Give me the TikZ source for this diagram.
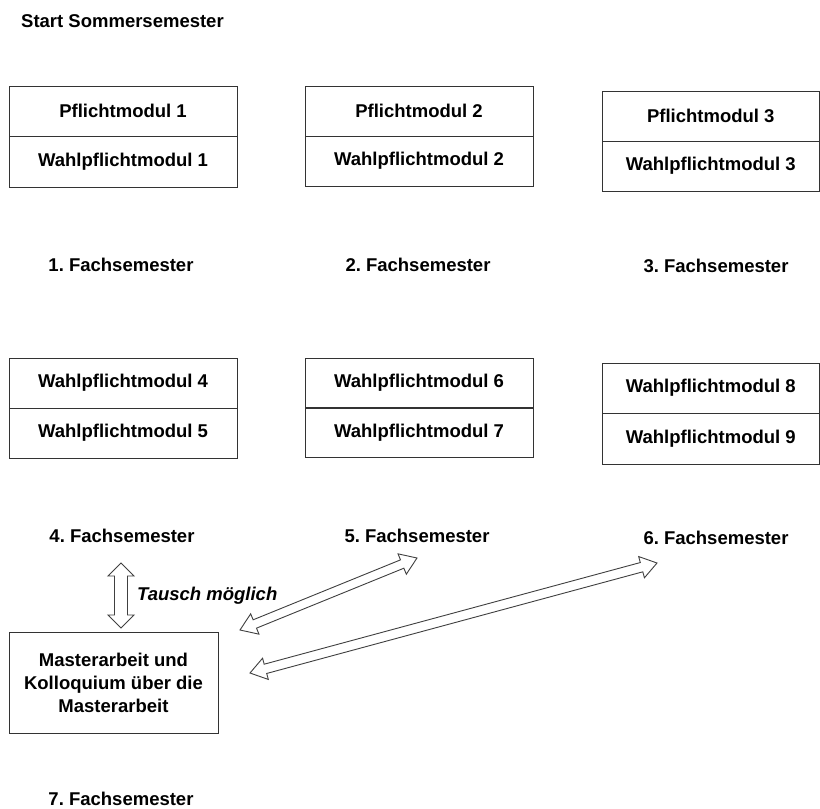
\documentclass[tikz,border=0pt]{standalone}
\usepackage{fontspec}
\setmainfont{Liberation Sans}
\usetikzlibrary{calc}
\frenchspacing
\newcommand\hollowarrow[5]{%
\draw[arrowline] (#1) -- ($(#1)!#5!(#2)!#4!90:(#2)$) -- ($(#1)!#5!(#2)!#3!90:(#2)$)
  -- ($(#2)!#5!(#1)!#3!-90:(#1)$) -- ($(#2)!#5!(#1)!#4!-90:(#1)$) -- (#2)
  -- ($(#2)!#5!(#1)!#4!90:(#1)$) -- ($(#2)!#5!(#1)!#3!90:(#1)$)
  -- ($(#1)!#5!(#2)!#3!-90:(#2)$) -- ($(#1)!#5!(#2)!#4!-90:(#2)$) -- cycle;}
\begin{document}
\begin{tikzpicture}[x=1pt,y=-1pt,
  txt/.style={font=\fontsize{18.5}{23}\selectfont\bfseries\frenchspacing, inner sep=0pt},
  cellA/.style={txt, draw=black!80, line width=1pt, minimum width=228pt, minimum height=50pt},
  cellB/.style={txt, draw=black!80, line width=1pt, minimum width=217.5pt, minimum height=50pt},
  lbl/.style={txt, anchor=base},
  arrowline/.style={draw=black!75, fill=white, line width=0.9pt, line join=miter}]
\useasboundingbox (0,0) rectangle (820,809);
\fill[white] (0,0) rectangle (820,809);

\node[lbl, anchor=base west] (start) at (21,27) {Start Sommersemester};

% semester 1-3
\node[cellA] (p1) at (123,111) {Pflichtmodul 1};
\node[cellA, minimum height=51pt] (w1) at (123,161.5) {Wahlpflichtmodul 1};
\node[cellA] (p2) at (419,111) {Pflichtmodul 2};
\node[cellA] (w2) at (419,161) {Wahlpflichtmodul 2};
\node[cellB] (p3) at (710.75,116) {Pflichtmodul 3};
\node[cellB] (w3) at (710.75,166) {Wahlpflichtmodul 3};

\node[lbl] (s1) at (121,271) {1. Fachsemester};
\node[lbl] (s2) at (418,271) {2. Fachsemester};
\node[lbl] (s3) at (716,272) {3. Fachsemester};

% semester 4-6
\node[cellA] (w4) at (123,383) {Wahlpflichtmodul 4};
\node[cellA] (w5) at (123,433) {Wahlpflichtmodul 5};
\node[cellA] (w6) at (419,383) {Wahlpflichtmodul 6};
\node[cellA] (w7) at (419,432.5) {Wahlpflichtmodul 7};
\node[cellB] (w8) at (710.75,388) {Wahlpflichtmodul 8};
\node[cellB, minimum height=51pt] (w9) at (710.75,438.5) {Wahlpflichtmodul 9};

\node[lbl] (s4) at (122,542) {4. Fachsemester};
\node[lbl] (s5) at (417,542) {5. Fachsemester};
\node[lbl] (s6) at (716,544) {6. Fachsemester};

% master thesis
\node[txt, draw=black!80, line width=1pt, minimum width=209pt, minimum height=101pt, align=center]
  (m) at (113.5,682.5) {Masterarbeit und\\Kolloquium über die\\Masterarbeit};
\node[lbl] (s7) at (121,805) {7. Fachsemester};

\node[txt, font=\fontsize{18.5}{23}\selectfont\bfseries\itshape, anchor=base west]
  (tausch) at (137,600) {Tausch möglich};

% arrows
\coordinate (a4) at (121,563);
\coordinate (am4) at (121,628);
\coordinate (a5) at (417,558);
\coordinate (am5) at (240,630);
\coordinate (a6) at (657,563);
\coordinate (am6) at (250,673);
\hollowarrow{a4}{am4}{6.5pt}{13pt}{13pt}
\hollowarrow{am5}{a5}{4.5pt}{11pt}{16pt}
\hollowarrow{am6}{a6}{4.8pt}{11pt}{16pt}
\end{tikzpicture}
\end{document}
